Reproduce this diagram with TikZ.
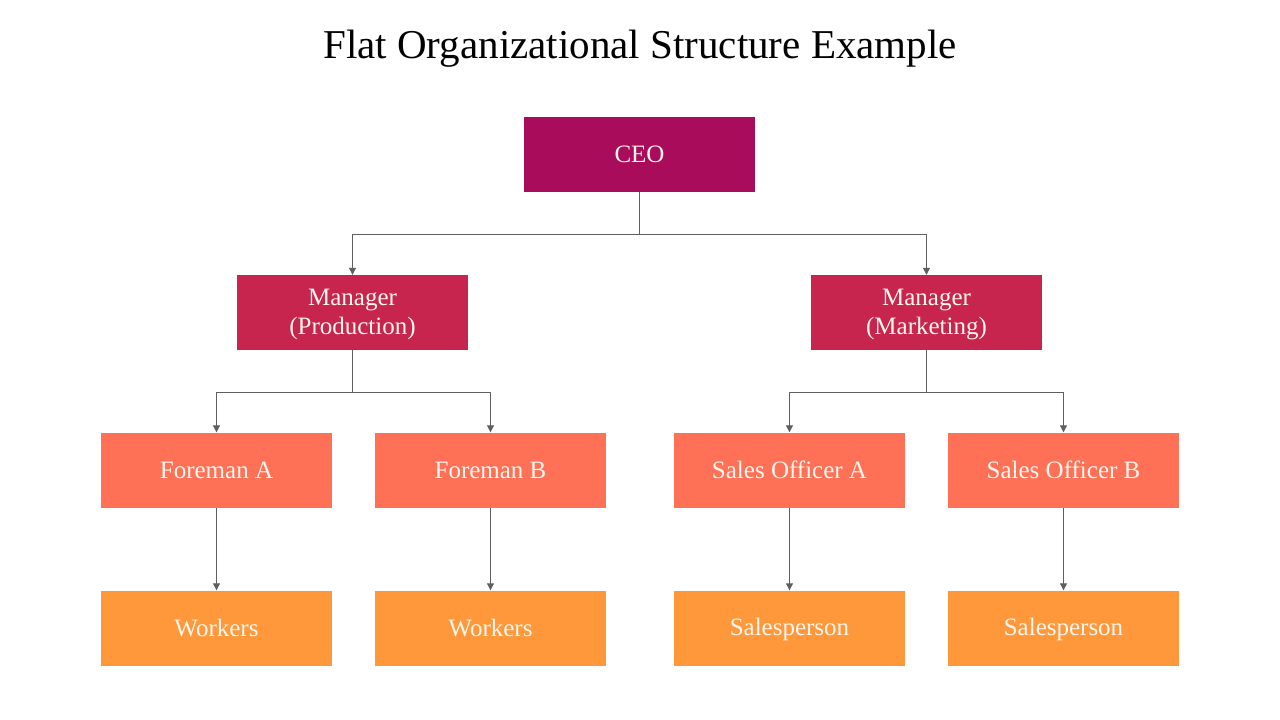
\documentclass[tikz,border=0pt]{standalone}
\usepackage{fontspec}
\setmainfont{Liberation Serif}
\usetikzlibrary{arrows.meta}
\definecolor{ceoc}{HTML}{A90C5A}
\definecolor{mgrc}{HTML}{C7254E}
\definecolor{forc}{HTML}{FF7157}
\definecolor{wrkc}{HTML}{FF983B}
\definecolor{linec}{HTML}{5F5F5F}
\definecolor{txtc}{HTML}{FFF6EE}
\newcommand{\bstrut}{\rule[-3.5pt]{0pt}{23.5pt}}
\tikzset{
  box/.style={minimum width=231pt, minimum height=75pt, inner sep=0pt, text=txtc,
    font=\fontsize{25}{28.5}\selectfont, align=center},
  conn/.style={draw=linec, line width=1pt},
  arr/.style={conn, -{Triangle[length=7pt,width=7pt]}}
}
\begin{document}
\begin{tikzpicture}[x=1pt,y=-1pt]
\useasboundingbox (0,0) rectangle (1280,720);
\node[font=\fontsize{41}{46}\selectfont] (title) at (640,49) {Flat Organizational Structure Example};
\node[box, fill=ceoc] (ceo) at (639.5,154.5) {\bstrut CEO};
\node[box, fill=mgrc] (mp) at (352.5,312.5) {\rule{0pt}{20pt}Manager\\(Production)\rule[-1.5pt]{0pt}{0pt}};
\node[box, fill=mgrc] (mm) at (926.5,312.5) {\rule{0pt}{20pt}Manager\\(Marketing)\rule[-1.5pt]{0pt}{0pt}};
\node[box, fill=forc] (fa) at (216.5,470) {\bstrut Foreman A};
\node[box, fill=forc] (fb) at (490.5,470) {\bstrut Foreman B};
\node[box, fill=forc] (sa) at (789.5,470) {\bstrut Sales Officer A};
\node[box, fill=forc] (sb) at (1063.5,470) {\bstrut Sales Officer B};
\node[box, fill=wrkc] (wa) at (216.5,628) {\bstrut Workers};
\node[box, fill=wrkc] (wb) at (490.5,628) {\bstrut Workers};
\node[box, fill=wrkc] (pa) at (789.5,628) {\bstrut Salesperson};
\node[box, fill=wrkc] (pb) at (1063.5,628) {\bstrut Salesperson};
\coordinate (j1) at (640,234);
\coordinate (j2) at (352.5,392);
\coordinate (j3) at (926.5,392);
\draw[conn] (ceo.south) -- (ceo.south |- j1);
\draw[arr] (ceo.south |- j1) -| (mp.north);
\draw[arr] (ceo.south |- j1) -| (mm.north);
\draw[conn] (mp.south) -- (j2);
\draw[arr] (j2) -| (fa.north);
\draw[arr] (j2) -| (fb.north);
\draw[conn] (mm.south) -- (j3);
\draw[arr] (j3) -| (sa.north);
\draw[arr] (j3) -| (sb.north);
\draw[arr] (fa) -- (wa);
\draw[arr] (fb) -- (wb);
\draw[arr] (sa) -- (pa);
\draw[arr] (sb) -- (pb);
\end{tikzpicture}
\end{document}
